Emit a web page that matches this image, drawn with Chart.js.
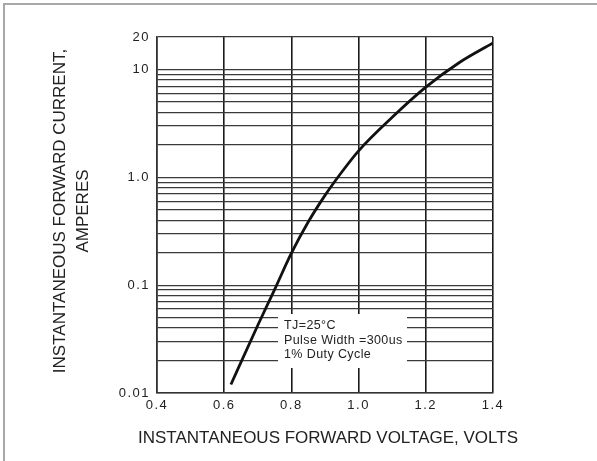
<!DOCTYPE html>
<html>
<head>
<meta charset="utf-8">
<script src="https://cdn.jsdelivr.net/npm/chart.js@4.4.1/dist/chart.umd.min.js"></script>
<style>
  html, body { margin: 0; padding: 0; background: #fff; }
  canvas { display: block; }
</style>
</head>
<body>
<canvas id="chart1" width="597" height="461"></canvas>
<script>
// forward voltage (V) vs forward current (A)
const voltage = [0.62, 0.7, 0.75, 0.8, 0.85, 0.9, 0.95, 1.0, 1.1, 1.2, 1.3, 1.4]
const current = [0.012, 0.0425, 0.091, 0.198, 0.385, 0.68, 1.12, 1.76, 3.6, 6.85, 11.6, 17.6]

const xTickValues = [0.4, 0.6, 0.8, 1.0, 1.2, 1.4]
const xTickLabels = ['0.4', '0.6', '0.8', '1.0', '1.2', '1.4']

const yGridValues = [0.01, 0.02, 0.03, 0.04, 0.05, 0.06, 0.07, 0.08, 0.09,
  0.1, 0.2, 0.3, 0.4, 0.5, 0.6, 0.7, 0.8, 0.9,
  1, 2, 3, 4, 5, 6, 7, 8, 9, 10, 20]
const yTickValues = [0.01, 0.1, 1, 10, 20]
const yTickLabels = ['0.01', '0.1', '1.0', '10', '20']

const xTitle = 'INSTANTANEOUS FORWARD VOLTAGE, VOLTS'
const yTitle = ['INSTANTANEOUS FORWARD CURRENT,', 'AMPERES']
const noteLines = ['TJ=25°C', 'Pulse Width =300us', '1% Duty Cycle']

const FONT = '"Liberation Sans", Arial, sans-serif'

// frame, letter spaced ticks, titles and the note box
const decor = {
  id: 'decor',
  beforeDraw(chart) {
    const ctx = chart.ctx
    ctx.save()
    ctx.fillStyle = '#a8a8a8'
    ctx.fillRect(3, 3, chart.width - 3, 2)
    ctx.fillRect(3, 3, 2, chart.height - 3)
    ctx.restore()
    ctx.letterSpacing = '1.5px'
  },
  afterDatasetsDraw(chart) {
    const ctx = chart.ctx
    ctx.letterSpacing = '0px'
    ctx.save()
    ctx.fillStyle = '#fff'
    ctx.fillRect(278, 314, 129, 54)
    ctx.fillStyle = '#222'
    ctx.font = '12.5px ' + FONT
    ctx.letterSpacing = '0.4px'
    ctx.textBaseline = 'middle'
    ctx.textAlign = 'left'
    noteLines.forEach((t, i) => ctx.fillText(t, 284, 326 + i * 14.5))
    ctx.restore()
  },
  afterDraw(chart) {
    const ctx = chart.ctx
    const { left, right } = chart.chartArea
    ctx.save()
    ctx.letterSpacing = '0px'
    ctx.fillStyle = '#222'
    ctx.font = '17px ' + FONT
    ctx.textAlign = 'center'
    ctx.textBaseline = 'middle'
    ctx.fillText(xTitle, (left + right) / 2 + 3, 438)
    ctx.translate(60, 211)
    ctx.rotate(-Math.PI / 2)
    ctx.fillText(yTitle[0], 0, 0)
    ctx.fillText(yTitle[1], 0, 23)
    ctx.restore()
  }
}

new Chart('chart1', {
  type: 'line',
  data: {
    datasets: [{
      data: voltage.map((v, i) => ({ x: v, y: current[i] })),
      borderColor: '#111',
      borderWidth: 2.8,
      pointRadius: 0,
      cubicInterpolationMode: 'monotone',
      fill: false
    }]
  },
  options: {
    responsive: false,
    animation: false,
    layout: { padding: { top: 37, right: 104, left: 0, bottom: 0 } },
    plugins: {
      legend: { display: false },
      tooltip: { enabled: false }
    },
    scales: {
      x: {
        type: 'linear',
        min: 0.4,
        max: 1.4,
        afterBuildTicks: scale => { scale.ticks = xTickValues.map(v => ({ value: v })) },
        afterFit: scale => { scale.height = 68 },
        ticks: {
          padding: 5,
          color: '#222',
          font: { family: FONT, size: 13 },
          maxRotation: 0,
          callback: v => xTickLabels[xTickValues.indexOf(v)]
        },
        grid: { color: '#1a1a1a', lineWidth: 1.6, drawTicks: false },
        border: { color: '#333', width: 1.5 }
      },
      y: {
        type: 'logarithmic',
        min: 0.01,
        max: 20,
        afterBuildTicks: scale => { scale.ticks = yGridValues.map(v => ({ value: v })) },
        afterFit: scale => { scale.width = 157 },
        ticks: {
          padding: 7,
          color: '#222',
          font: { family: FONT, size: 13 },
          autoSkip: false,
          callback: v => {
            const i = yTickValues.indexOf(v)
            return i < 0 ? '' : yTickLabels[i]
          }
        },
        grid: { color: '#3a3a3a', lineWidth: 1.2, drawTicks: false },
        border: { color: '#333', width: 1.5 }
      }
    }
  },
  plugins: [decor]
})
</script>
</body>
</html>
